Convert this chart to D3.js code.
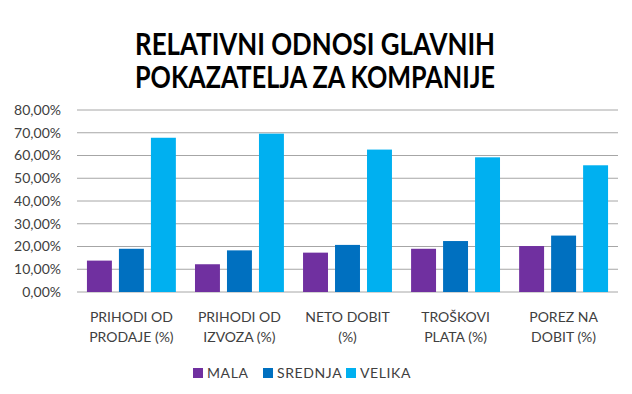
<!DOCTYPE html>
<html>
<head>
<meta charset="utf-8">
<script src="https://cdn.jsdelivr.net/npm/d3@7"></script>
<style>
  body { margin: 0; background: #fff; }
  svg { display: block; font-family: Lato, "Open Sans", sans-serif; }
</style>
</head>
<body>
<svg id="chart" width="632" height="394"></svg>
<script>
'use strict';

var categories = [
    ['PRIHODI OD', 'PRODAJE (%)'],
    ['PRIHODI OD', 'IZVOZA (%)'],
    ['NETO DOBIT', '(%)'],
    ['TROŠKOVI', 'PLATA (%)'],
    ['POREZ NA', 'DOBIT (%)']
];
var seriesNames = ['MALA', 'SREDNJA', 'VELIKA'];
var mala = [13.8, 12.2, 17.3, 19.0, 20.2];
var srednja = [19.0, 18.3, 20.7, 22.4, 24.8];
var velika = [67.8, 69.6, 62.6, 59.2, 55.7];
var yTicks = [0, 10, 20, 30, 40, 50, 60, 70, 80];
var titleLines = ['RELATIVNI ODNOSI GLAVNIH', 'POKAZATELJA ZA KOMPANIJE'];

var colors = ['#7030A0', '#0070C0', '#00B0F0'];
var seriesValues = [mala, srednja, velika];

var svg = d3.select('#chart');
var margin = { left: 77, right: 14, top: 110, bottom: 102 };
var width = 632 - margin.left - margin.right;
var height = 394 - margin.top - margin.bottom;

var g = svg.append('g').attr('transform', 'translate(' + margin.left + ',' + margin.top + ')');

var x0 = d3.scaleBand().domain(d3.range(categories.length)).range([0, width]).paddingInner(0.177).paddingOuter(0.092);
var x1 = d3.scaleBand().domain(d3.range(seriesNames.length)).range([0, x0.bandwidth()]).paddingInner(0.22).paddingOuter(0);
var y = d3.scaleLinear().domain([0, 80]).range([height, 0]);

// title
svg.selectAll('text.title').data(titleLines).enter().append('text')
    .attr('class', 'title')
    .attr('x', 315)
    .attr('y', function (d, i) { return 55 + i * 33; })
    .attr('text-anchor', 'middle')
    .attr('font-size', 30)
    .attr('font-weight', 'bold')
    .attr('fill', '#000')
    .attr('textLength', 360)
    .attr('lengthAdjust', 'spacingAndGlyphs')
    .text(function (d) { return d; });

// gridlines
g.selectAll('line.grid').data(yTicks).enter().append('line')
    .attr('class', 'grid')
    .attr('x1', 0).attr('x2', width)
    .attr('y1', function (d) { return y(d); })
    .attr('y2', function (d) { return y(d); })
    .attr('stroke', '#a6a6a6')
    .attr('stroke-width', 1);

// y axis
var yAxis = d3.axisLeft(y).tickValues(yTicks).tickSize(0).tickPadding(16)
    .tickFormat(function (d) { return d3.format('.2f')(d).replace('.', ',') + '%'; });
var ya = g.append('g').call(yAxis);
ya.select('.domain').remove();
ya.selectAll('text').attr('font-size', 14).attr('fill', '#404040').attr('font-family', 'Lato, sans-serif');

// bars
var groups = g.selectAll('g.cat').data(categories).enter().append('g')
    .attr('class', 'cat')
    .attr('transform', function (d, i) { return 'translate(' + x0(i) + ',0)'; });

groups.selectAll('rect').data(function (d, i) {
    return seriesValues.map(function (s, k) { return { k: k, v: s[i] }; });
}).enter().append('rect')
    .attr('x', function (d) { return x1(d.k); })
    .attr('width', x1.bandwidth())
    .attr('y', function (d) { return y(d.v); })
    .attr('height', function (d) { return height - y(d.v); })
    .attr('fill', function (d) { return colors[d.k]; });

// x labels
groups.selectAll('text').data(function (d) { return d; }).enter().append('text')
    .attr('x', x0.bandwidth() / 2)
    .attr('y', function (d, i) { return height + 30 + i * 20; })
    .attr('text-anchor', 'middle')
    .attr('font-size', 14)
    .attr('fill', '#404040')
    .text(function (d) { return d; });

// legend
var legendX = [193, 263, 346];
var legend = svg.selectAll('g.legend').data(seriesNames).enter().append('g')
    .attr('class', 'legend')
    .attr('transform', function (d, i) { return 'translate(' + legendX[i] + ',368)'; });
legend.append('rect').attr('width', 10).attr('height', 10).attr('fill', function (d, i) { return colors[i]; });
legend.append('text').attr('x', 14).attr('y', 10).attr('font-size', 14).attr('fill', '#404040')
    .attr('letter-spacing', 0.6)
    .text(function (d) { return d; });
</script>
</body>
</html>
